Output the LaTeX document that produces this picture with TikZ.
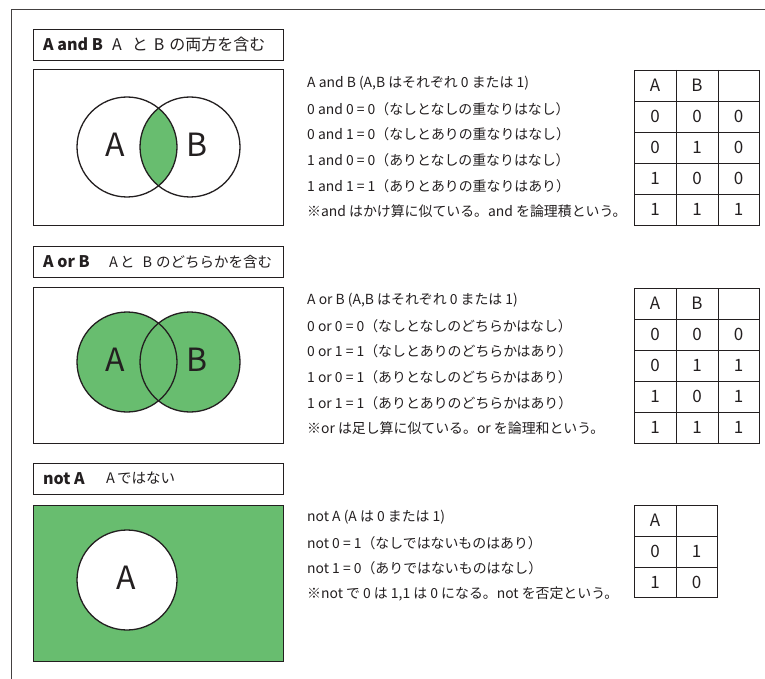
\documentclass[tikz,border=0pt]{standalone}
\usepackage{fontspec}
\setmainfont{Noto Sans CJK JP}
\definecolor{vgreen}{RGB}{104,189,111}
\definecolor{ink}{RGB}{35,31,32}
\tikzset{
  frameline/.style={draw=ink!85, line width=1pt},
  titlebox/.style={draw=ink, line width=1.4pt, minimum width=250pt, minimum height=31pt, inner sep=0pt, anchor=north west},
  vennbox/.style={draw=ink, line width=1.4pt, minimum width=250pt, minimum height=156pt, inner sep=0pt, anchor=north west},
  vcirc/.style={circle, draw=ink, line width=1.3pt, minimum size=100pt, inner sep=0pt},
  vlabel/.style={font=\fontsize{32}{32}\selectfont, text=ink, inner sep=0pt},
  ttl/.style={font=\fontsize{16}{16}\selectfont, text=ink, anchor=west, inner sep=0pt},
  ttlsmall/.style={font=\fontsize{14.5}{15}\selectfont, text=ink, anchor=west, inner sep=0pt},
  expl/.style={font=\fontsize{13.9}{14}\selectfont, text=ink, anchor=west, inner sep=0pt},
  tabline/.style={draw=ink, line width=0.9pt},
  cell/.style={font=\fontsize{17}{17}\selectfont, text=ink, inner sep=0pt}
}
\begin{document}
\begin{tikzpicture}[x=1pt,y=-1pt]
\useasboundingbox (0,0) rectangle (765,679);
% outer frame
\draw[frameline] (11,679) -- (11,9.5) -- (765,9.5);

% ===== Section 1: A and B =====
\node[titlebox] (t1) at (33,29) {};
\node[ttl] (t1a) at (43,44.5) {\textbf{A and B}};
\node[ttl] (t1b) at (112,44.5) {A\hspace{10pt}と\hspace{6pt}B\hspace{5pt}の両方を含む};
\node[vennbox] (v1) at (33,69) {};
\begin{scope}
  \clip (127,147) circle (50pt);
  \fill[vgreen] (190,147) circle (50pt);
\end{scope}
\node[vcirc] (c1a) at (127,147) {};
\node[vcirc] (c1b) at (190,147) {};
\node[vlabel] (l1a) at (115,145) {A};
\node[vlabel] (l1b) at (197,145) {B};
\node[expl] (e11) at (307,83.5) {A and B (A,B はそれぞれ 0 または 1)};
\node[expl] (e12) at (307,109.1) {0 and 0 = 0（なしとなしの重なりはなし）};
\node[expl] (e13) at (307,134.7) {0 and 1 = 0（なしとありの重なりはなし）};
\node[expl] (e14) at (307,160.3) {1 and 0 = 0（ありとなしの重なりはなし）};
\node[expl] (e15) at (307,185.9) {1 and 1 = 1（ありとありの重なりはあり）};
\node[expl] (e16) at (307,211.5) {※and はかけ算に似ている。and を論理積という。};
\draw[tabline] (634,70) rectangle (759,225);
\foreach \yy in {101,132,163,194} \draw[tabline] (634,\yy) -- (759,\yy);
\foreach \xx in {676,718} \draw[tabline] (\xx,70) -- (\xx,225);
\node[cell] at (655,85.5) {A};
\node[cell] at (697,85.5) {B};
\node[cell] at (655,116.5) {0};\node[cell] at (697,116.5) {0};\node[cell] at (738.5,116.5) {0};
\node[cell] at (655,147.5) {0};\node[cell] at (697,147.5) {1};\node[cell] at (738.5,147.5) {0};
\node[cell] at (655,178.5) {1};\node[cell] at (697,178.5) {0};\node[cell] at (738.5,178.5) {0};
\node[cell] at (655,209.5) {1};\node[cell] at (697,209.5) {1};\node[cell] at (738.5,209.5) {1};

% ===== Section 2: A or B =====
\node[titlebox] (t2) at (33,246) {};
\node[ttl] (t2a) at (43,261.5) {\textbf{A or B}};
\node[ttlsmall] (t2b) at (109,261.5) {A\hspace{2pt}と\hspace{8pt}B\hspace{4pt}のどちらかを含む};
\node[vennbox] (v2) at (33,287) {};
\fill[vgreen] (127,362) circle (50pt);
\fill[vgreen] (190,362) circle (50pt);
\node[vcirc] (c2a) at (127,362) {};
\node[vcirc] (c2b) at (190,362) {};
\node[vlabel] (l2a) at (115,360) {A};
\node[vlabel] (l2b) at (197,360) {B};
\node[expl] (e21) at (307,300.5) {A or B (A,B はそれぞれ 0 または 1)};
\node[expl] (e22) at (307,326.1) {0 or 0 = 0（なしとなしのどちらかはなし）};
\node[expl] (e23) at (307,351.7) {0 or 1 = 1（なしとありのどちらかはあり）};
\node[expl] (e24) at (307,377.3) {1 or 0 = 1（ありとなしのどちらかはあり）};
\node[expl] (e25) at (307,402.9) {1 or 1 = 1（ありとありのどちらかはあり）};
\node[expl] (e26) at (307,428.5) {※or は足し算に似ている。or を論理和という。};
\draw[tabline] (634,288) rectangle (759,443);
\foreach \yy in {319,350,381,412} \draw[tabline] (634,\yy) -- (759,\yy);
\foreach \xx in {676,718} \draw[tabline] (\xx,288) -- (\xx,443);
\node[cell] at (655,303.5) {A};
\node[cell] at (697,303.5) {B};
\node[cell] at (655,334.5) {0};\node[cell] at (697,334.5) {0};\node[cell] at (738.5,334.5) {0};
\node[cell] at (655,365.5) {0};\node[cell] at (697,365.5) {1};\node[cell] at (738.5,365.5) {1};
\node[cell] at (655,396.5) {1};\node[cell] at (697,396.5) {0};\node[cell] at (738.5,396.5) {1};
\node[cell] at (655,427.5) {1};\node[cell] at (697,427.5) {1};\node[cell] at (738.5,427.5) {1};

% ===== Section 3: not A =====
\node[titlebox] (t3) at (33,463) {};
\node[ttl] (t3a) at (43,478.5) {\textbf{not A}};
\node[ttlsmall] (t3b) at (106,478.5) {A\hspace{2pt}ではない};
\node[vennbox, fill=vgreen] (v3) at (33,505) {};
\node[vcirc, fill=white] (c3a) at (127,580) {};
\node[vlabel] (l3a) at (126,578) {A};
\node[expl] (e31) at (307,517.5) {not A (A は 0 または 1)};
\node[expl] (e32) at (307,543.1) {not 0 = 1（なしではないものはあり）};
\node[expl] (e33) at (307,568.7) {not 1 = 0（ありではないものはなし）};
\node[expl] (e34) at (307,594.3) {※not で 0 は 1,1 は 0 になる。not を否定という。};
\draw[tabline] (634,505) rectangle (717,597);
\foreach \yy in {536,567} \draw[tabline] (634,\yy) -- (717,\yy);
\draw[tabline] (676,505) -- (676,597);
\node[cell] at (655,520.5) {A};
\node[cell] at (655,551.5) {0};\node[cell] at (696.5,551.5) {1};
\node[cell] at (655,582) {1};\node[cell] at (696.5,582) {0};
\end{tikzpicture}
\end{document}
